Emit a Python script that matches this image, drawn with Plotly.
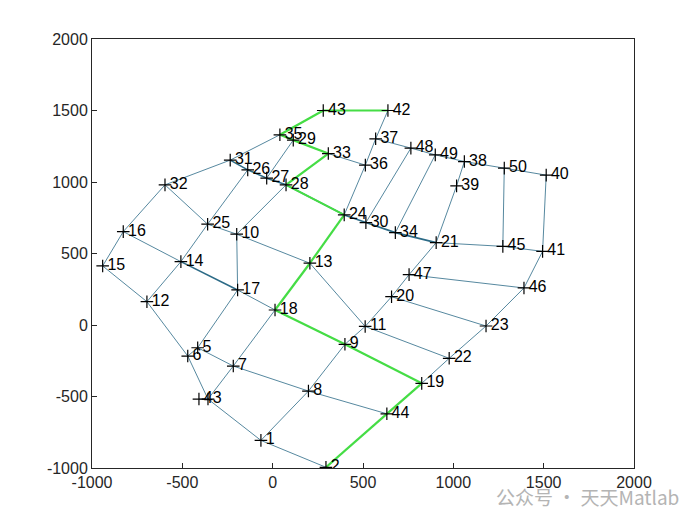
import plotly.graph_objects as go

# node coordinates (node i is at index i-1)
node_x = [-65, 295, -358, -408, -415, -470, -218, 198, 400, -199,
          512, -696, 206, -508, -941, -827, -194, 13, 825, 658,
          905, 977, 1181, 396, -360, -138, -33, 74, 114, 516,
          -235, -596, 308, 679, 40, 513, 570, 1061, 1018, 1514,
          1494, 638, 280, 632, 1274, 1391, 755, 765, 900, 1282]
node_y = [-807, -995, -518, -518, -159, -217, -287, -462, -135, 635,
          -10, 163, 432, 443, 413, 653, 245, 105, -408, 198,
          576, -233, -7, 770, 705, 1085, 1027, 980, 1293, 716,
          1153, 980, 1199, 646, 1330, 1118, 1302, 1143, 973, 1048,
          515, 1500, 1500, -621, 550, 259, 352, 1237, 1190, 1097]

# edges of the network
edges = [
    (15, 16), (16, 32), (32, 31), (31, 35),
    (12, 14), (14, 25), (25, 26),
    (6, 5), (5, 17), (17, 10), (10, 28), (29, 27),
    (3, 4), (3, 7), (7, 18), (18, 13), (13, 24), (24, 36), (36, 37), (37, 42),
    (1, 8), (8, 9), (9, 11), (11, 20), (20, 47), (47, 21), (21, 39), (39, 38),
    (2, 44), (44, 19), (19, 22), (22, 23), (23, 46), (46, 41), (41, 40),
    (15, 12), (12, 6), (6, 3), (3, 1), (1, 2),
    (32, 25), (25, 10), (10, 13), (13, 11), (11, 22),
    (16, 14), (17, 18), (18, 9), (9, 19),
    (5, 7), (7, 8), (8, 44), (20, 23), (47, 46),
    (30, 48), (34, 49), (45, 50), (37, 48), (48, 49), (49, 38), (38, 50), (50, 40),
    (33, 36), (35, 29), (29, 33), (28, 33), (35, 43), (43, 42),
    (21, 45), (45, 41),
]
# edges that are drawn twice (look heavier)
heavy_edges = [(31, 26), (26, 27), (27, 28), (28, 24), (24, 30), (30, 34), (34, 21), (14, 17)]

# shortest path highlighted in green
path = [2, 44, 19, 9, 18, 13, 24, 28, 33, 29, 35, 43, 42]


def seg_xy(pairs):
    xs, ys = [], []
    for a, b in pairs:
        xs += [node_x[a - 1], node_x[b - 1], None]
        ys += [node_y[a - 1], node_y[b - 1], None]
    return xs, ys


edge_color = "#2b6a86"
fig = go.Figure()

ex, ey = seg_xy(edges)
fig.add_trace(go.Scatter(x=ex, y=ey, mode="lines", line=dict(color=edge_color, width=0.8),
                         hoverinfo="skip", showlegend=False))
hx, hy = seg_xy(heavy_edges)
fig.add_trace(go.Scatter(x=hx, y=hy, mode="lines", line=dict(color=edge_color, width=1.6),
                         hoverinfo="skip", showlegend=False))
px_, py_ = seg_xy(list(zip(path[:-1], path[1:])))
fig.add_trace(go.Scatter(x=px_, y=py_, mode="lines", line=dict(color="#45dd45", width=2.2),
                         hoverinfo="skip", showlegend=False))

fig.add_trace(go.Scatter(
    x=node_x, y=node_y, mode="markers",
    marker=dict(symbol="cross-thin", size=9, line=dict(color="black", width=1.2)),
    showlegend=False,
))
# node labels sit right next to the marker (invisible marker sets the gap)
fig.add_trace(go.Scatter(
    x=node_x, y=node_y, mode="markers+text",
    marker=dict(size=6, color="rgba(0,0,0,0)"),
    text=[str(i + 1) for i in range(len(node_x))],
    textposition="middle right",
    textfont=dict(family="Liberation Sans, Arial", size=16, color="black"),
    hoverinfo="skip", showlegend=False,
))

ticks = [-1000, -500, 0, 500, 1000, 1500, 2000]
tick_text = [str(t) for t in ticks]
axis_style = dict(
    showline=True, mirror=True, linecolor="#262626", linewidth=1,
    ticks="inside", ticklen=5, tickcolor="#262626",
    showgrid=False, zeroline=False,
    tickvals=ticks, ticktext=tick_text,
    tickfont=dict(family="Liberation Sans, Arial", size=16, color="#262626"),
)
fig.update_xaxes(range=[-1000, 2000], **axis_style)
fig.update_yaxes(range=[-1000, 2000], **axis_style)

fig.add_annotation(
    x=1, y=0, xref="paper", yref="paper", xanchor="right", yanchor="middle",
    xshift=47, yshift=-28, showarrow=False,
    text="公众号 · 天天Matlab",
    font=dict(family="Noto Sans CJK SC", size=19, color="#b4b4b4"),
)

fig.update_layout(
    width=700, height=525,
    margin=dict(l=84, r=74, t=31, b=65),
    plot_bgcolor="white", paper_bgcolor="white",
)

fig.write_html("out.html")
